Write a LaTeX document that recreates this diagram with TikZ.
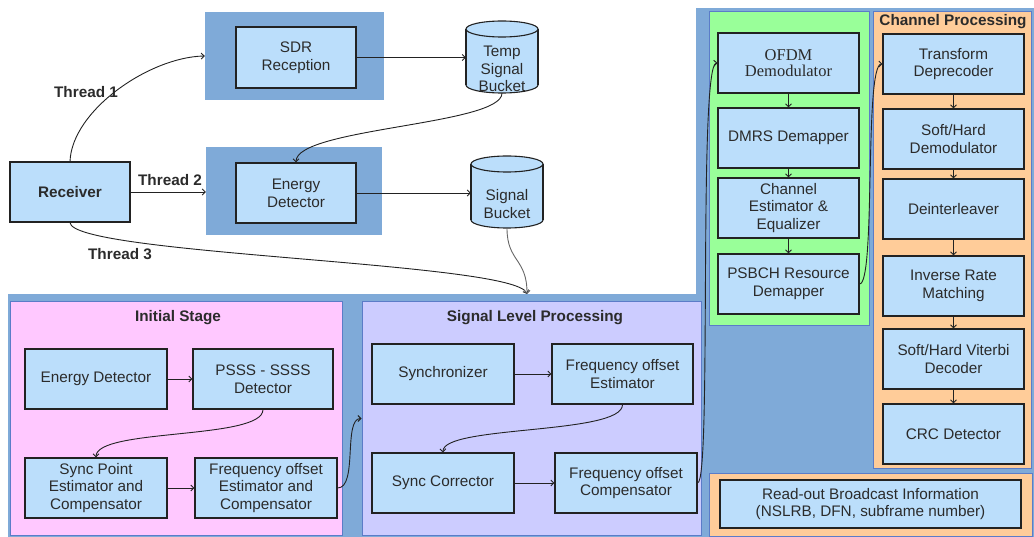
\documentclass[tikz,border=0pt]{standalone}
\usepackage{fontspec}
\setmainfont{Liberation Sans}
\newfontfamily\serifface{Liberation Serif}
\usetikzlibrary{arrows.meta}
\definecolor{boxblue}{HTML}{BBDEFB}
\definecolor{bgblue}{HTML}{7FAAD8}
\definecolor{pinkp}{HTML}{FFC8FF}
\definecolor{lavp}{HTML}{CCCCFF}
\definecolor{greenp}{HTML}{99FF99}
\definecolor{orangep}{HTML}{FFCC99}
\definecolor{pborder}{HTML}{5B7CC8}
\definecolor{lineclr}{HTML}{222222}
\definecolor{txtclr}{HTML}{2B2B2B}
\newcommand\fs{\fontsize{15.3}{17.8}\selectfont}
\newcommand\mycyl[4]{%
  \path[draw=lineclr,line width=1.1pt,fill=boxblue] (#1,#2+28) ellipse[x radius=36,y radius=8];
  \fill[boxblue] (#1-36,#2-28) rectangle (#1+36,#2+28);
  \draw[lineclr,line width=1.1pt] (#1-36,#2-28) -- (#1-36,#2+28) (#1+36,#2-28) -- (#1+36,#2+28);
  \path[draw=lineclr,line width=1.1pt,fill=boxblue] (#1,#2-28) ellipse[x radius=36,y radius=8];
  \node[minimum width=72, minimum height=72, inner sep=0pt] (#3) at (#1,#2) {};
  \node[align=center, font=\fs, text=txtclr, inner sep=0pt] (#3t) at (#1,#2+12) {#4};
}
\tikzset{
  box/.style={draw=lineclr, line width=1.1pt, fill=boxblue, align=center, font=\fs,
    text=txtclr, inner sep=0pt, minimum width=142, minimum height=60},
  bgbox/.style={fill=bgblue, draw=none, inner sep=0pt},
  panel/.style={draw=pborder, line width=1pt, inner sep=0pt},
  ptitle/.style={font=\fs\bfseries, text=txtclr, inner sep=0pt},
  conn/.style={draw=lineclr, line width=0.9pt, -{Straight Barb[length=3pt,width=6pt]}},
}
\begin{document}
\begin{tikzpicture}[x=1pt,y=-1pt]
\useasboundingbox (0,0) rectangle (1034,537);
% big backgrounds
\fill[bgblue] (8,294) rectangle (697,537);
\fill[bgblue] (696,8) rectangle (1034,537);
% top section
\node[bgbox, minimum width=179, minimum height=88] (sdrbg) at (294.5,56) {};
\node[bgbox, minimum width=176, minimum height=88] (edbg) at (294,191) {};
\node[box, minimum width=120, minimum height=61] (sdr) at (296,57.5) {SDR\\Reception};
\node[box, minimum width=120, minimum height=60] (ed) at (296,193) {Energy\\Detector};
\node[box, minimum width=120, minimum height=60, font=\fs\bfseries] (rec) at (70,192) {Receiver};
\mycyl{502}{57}{tb}{Temp\\Signal\\Bucket}
\mycyl{507}{192}{sb}{Signal\\Bucket}
\coordinate (t3) at (527,294);
\node[ptitle] (th1) at (86,92) {Thread 1};
\node[ptitle] (th2) at (170,180) {Thread 2};
\node[ptitle] (th3) at (120,254) {Thread 3};
\draw[conn] (rec.north) .. controls (72,110) and (150,57) .. (sdrbg.west);
\draw[conn] (rec.east) -- (rec.east -| edbg.west);
\draw[conn] (sdr.east) -- (sdr.east -| tb.west);
\draw[conn] (tb.south) .. controls (502,125) and (296,128) .. (ed.north);
\draw[conn] (ed.east) -- (ed.east -| sb.west);
\draw[conn] (rec.south) .. controls (72,255) and (515,262) .. (t3);
\draw[conn, draw=black!60] (sb.south) .. controls (507,262) and (527,258) .. (t3);
% initial stage
\node[panel, fill=pinkp, minimum width=332, minimum height=233] (init) at (176,418.5) {};
\node[ptitle] (initt) at (178,318) {Initial Stage};
\node[box] (ied) at (96,379) {Energy Detector};
\node[box, minimum width=140] (pss) at (263,379) {PSSS - SSSS\\Detector};
\node[box] (spe) at (96,488) {Sync Point\\Estimator and\\Compensator};
\node[box] (foec) at (266,488) {Frequency offset\\Estimator and\\Compensator};
% signal level processing
\node[panel, fill=lavp, minimum width=339, minimum height=233] (slp) at (531.5,418.5) {};
\node[ptitle] (slpt) at (535,318) {Signal Level Processing};
\node[box] (sync) at (443,374) {Synchronizer};
\node[box, minimum width=141] (foe) at (622.5,374) {Frequency offset\\Estimator};
\node[box] (sc) at (443,483) {Sync Corrector};
\node[box] (foc) at (626,483) {Frequency offset\\Compensator};
% green panel
\node[panel, fill=greenp, minimum width=160, minimum height=314] (grn) at (789,169) {};
\node[box, minimum width=141, font=\serifface\fontsize{16.5}{15.5}\selectfont] (ofdm) at (788.5,63) {OFDM\\Demodulator};
\node[box, minimum width=141] (dmrs) at (788.5,138) {DMRS Demapper};
\node[box, minimum width=141] (che) at (788.5,208) {Channel\\Estimator \&\\Equalizer};
\node[box, minimum width=141] (psb) at (788.5,284) {PSBCH Resource\\Demapper};
% channel processing
\node[panel, fill=orangep, minimum width=158, minimum height=456] (chp) at (952,240) {};
\node[ptitle] (chpt) at (953,22) {Channel Processing};
\node[box, minimum width=141] (td) at (953.5,64) {Transform\\Deprecoder};
\node[box, minimum width=141] (shd) at (953.5,139) {Soft/Hard\\Demodulator};
\node[box, minimum width=141] (di) at (953.5,209) {Deinterleaver};
\node[box, minimum width=141] (irm) at (953.5,286) {Inverse Rate\\Matching};
\node[box, minimum width=141] (shv) at (953.5,359) {Soft/Hard Viterbi\\Decoder};
\node[box, minimum width=141] (crc) at (953.5,434) {CRC Detector};
% readout
\node[panel, fill=orangep, minimum width=323, minimum height=63] (rop) at (870.5,504.5) {};
\node[box, minimum width=301, minimum height=48] (ro) at (870.5,504) {Read-out Broadcast Information\\(NSLRB, DFN, subframe number)};
% connectors
\draw[conn] (ied) -- (pss);
\draw[conn] (pss.south) .. controls (263,440) and (96,428) .. (spe.north);
\draw[conn] (spe) -- (foec);
\draw[conn] (foec.east) .. controls (358,488) and (343,418.5) .. (slp.west);
\draw[conn] (sync) -- (foe);
\draw[conn] (foe.south) .. controls (623,435) and (442,425) .. (sc.north);
\draw[conn] (sc) -- (foc);
\draw[conn] (foc.east) .. controls (712,483) and (698,64) .. (ofdm.west);
\draw[conn] (ofdm) -- (dmrs);
\draw[conn] (dmrs) -- (che);
\draw[conn] (che) -- (psb);
\draw[conn] (psb.east) .. controls (876,284) and (864,64) .. (td.west);
\draw[conn] (td) -- (shd);
\draw[conn] (shd) -- (di);
\draw[conn] (di) -- (irm);
\draw[conn] (irm) -- (shv);
\draw[conn] (shv) -- (crc);
\end{tikzpicture}
\end{document}
